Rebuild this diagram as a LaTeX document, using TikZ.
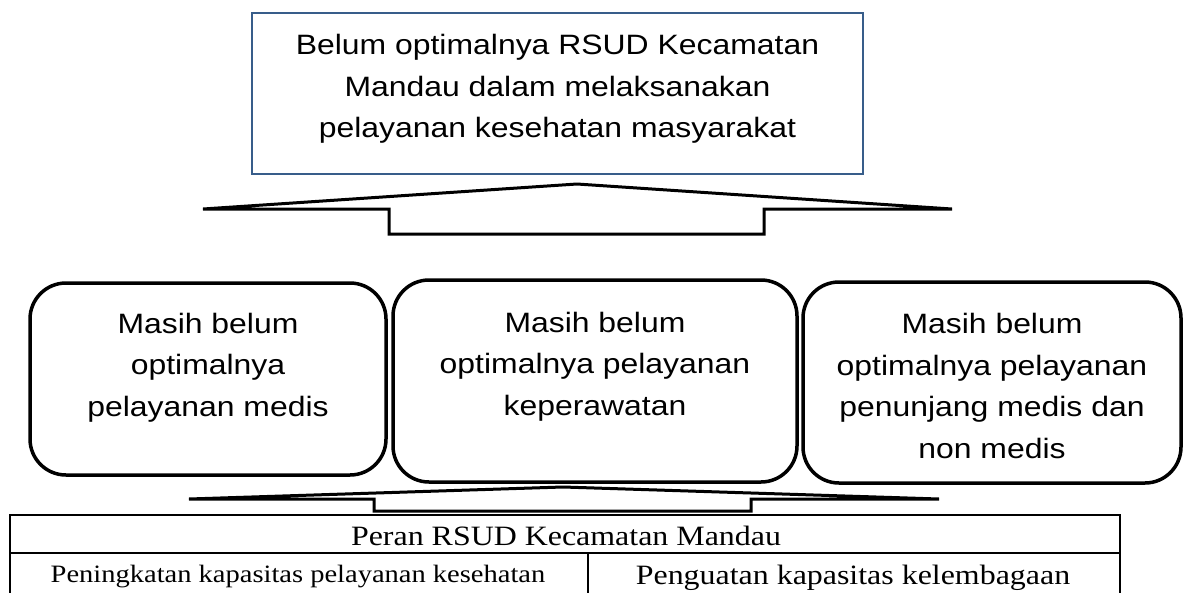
\documentclass[tikz,border=0pt]{standalone}
\usepackage{fontspec}
\newfontfamily\sansx{Liberation Sans}[FakeStretch=1.14]
\newfontfamily\serifx{Liberation Serif}[FakeStretch=1.14]
\definecolor{boxblue}{RGB}{56,93,138}
\begin{document}
\begin{tikzpicture}[x=1pt,y=-1pt,
  topbox/.style={draw=boxblue, line width=2.5pt, rectangle, inner sep=0pt},
  probox/.style={draw=black, line width=3.5pt, rectangle, rounded corners=36pt, inner sep=0pt},
  boxtext/.style={anchor=base, align=center, inner sep=0pt, font=\sansx\fontsize{28}{41.5}\selectfont},
  celltext/.style={anchor=base, inner sep=0pt},
  blockarrow/.style={draw=black, line width=3pt, fill=white},
  tableline/.style={draw=black, line width=2pt}]
\useasboundingbox (0,0) rectangle (1184,592);
\fill[white] (0,0) rectangle (1184,592);

% top box (anchor=base is the last line's baseline)
\node[topbox, minimum width=611pt, minimum height=161pt] (top) at (557.5,93.5) {};
\node[boxtext] (toptext) at (557.5,137.5) {Belum optimalnya RSUD Kecamatan\\Mandau dalam melaksanakan\\pelayanan kesehatan masyarakat};

% upper block arrow
\draw[blockarrow] (203,209) -- (577,184) -- (952,209) -- (764,209) -- (764,234) -- (389,234) -- (389,209) -- cycle;

% three problem boxes
\node[probox, minimum width=356pt, minimum height=192pt] (left) at (208,379) {};
\node[probox, minimum width=404pt, minimum height=202pt] (mid) at (595,381) {};
\node[probox, minimum width=378pt, minimum height=201pt] (right) at (992,382.5) {};
\node[boxtext] (lefttext) at (208,416) {Masih belum\\optimalnya\\pelayanan medis};
\node[boxtext] (midtext) at (595,415) {Masih belum\\optimalnya pelayanan\\keperawatan};
\node[boxtext] (righttext) at (992,458) {Masih belum\\optimalnya pelayanan\\penunjang medis dan\\non medis};

% lower block arrow
\draw[blockarrow] (189,499) -- (563,487) -- (939,499) -- (751,499) -- (751,511) -- (374,511) -- (374,499) -- cycle;

% table
\draw[tableline] (10,600) -- (10,515) -- (1120,515) -- (1120,600);
\draw[tableline] (10,553) -- (1120,553);
\draw[tableline] (588,553) -- (588,600);
\node[celltext, font=\serifx\fontsize{28}{32}\selectfont] (peran) at (566,545) {Peran RSUD Kecamatan Mandau};
\node[celltext, font=\serifx\fontsize{25}{30}\selectfont] (cellA) at (298,582) {Peningkatan kapasitas pelayanan kesehatan};
\node[celltext, font=\serifx\fontsize{28}{32}\selectfont] (cellB) at (853,584) {Penguatan kapasitas kelembagaan};
\end{tikzpicture}
\end{document}
